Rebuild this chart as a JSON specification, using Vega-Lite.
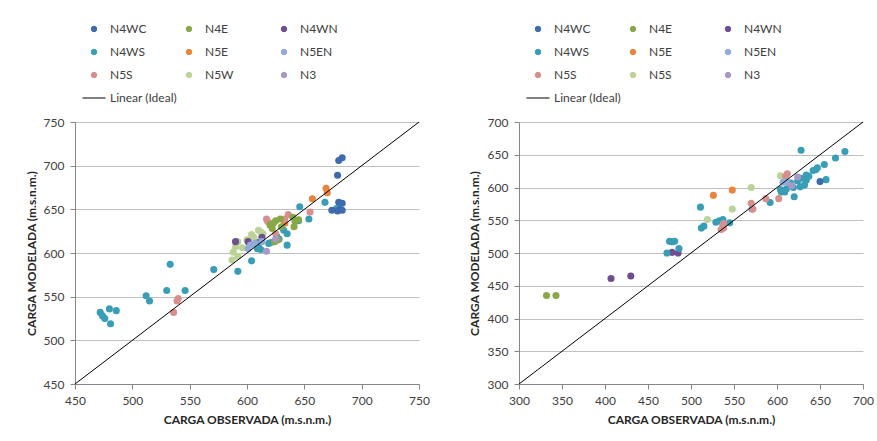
{
  "$schema": "https://vega.github.io/schema/vega-lite/v6.json",
  "background": "white",
  "padding": {"left": 25, "top": 23, "right": 5, "bottom": 5},
  "bounds": "flush",
  "spacing": 100,
  "config": {
    "view": {"stroke": null},
    "font": "Lato",
    "axis": {
      "labelFont": "Lato", "labelFontSize": 12, "labelColor": "#404040", "labelFlush": false, "labelOverlap": false,
      "titleFont": "Lato", "titleFontSize": 12, "titleFontWeight": "bold", "titleColor": "#262626",
      "domainColor": "#868686", "tickColor": "#868686", "tickSize": 5,
      "gridColor": "#BFBFBF", "gridWidth": 1
    },
    "legend": {
      "labelFont": "Lato", "labelFontSize": 12, "labelColor": "#404040",
      "padding": 0
    }
  },
  "datasets": {
    "izq": [
      {"serie": "N4WS", "observada": 472, "modelada": 532},
      {"serie": "N4WS", "observada": 474, "modelada": 528},
      {"serie": "N4WS", "observada": 476, "modelada": 525},
      {"serie": "N4WS", "observada": 480, "modelada": 536},
      {"serie": "N4WS", "observada": 481, "modelada": 519},
      {"serie": "N4WS", "observada": 486, "modelada": 534},
      {"serie": "N4WS", "observada": 512, "modelada": 551},
      {"serie": "N4WS", "observada": 515, "modelada": 545},
      {"serie": "N4WS", "observada": 530, "modelada": 557},
      {"serie": "N4WS", "observada": 533, "modelada": 587},
      {"serie": "N4WS", "observada": 546, "modelada": 557},
      {"serie": "N4WS", "observada": 571, "modelada": 581},
      {"serie": "N4WS", "observada": 592, "modelada": 579},
      {"serie": "N4WS", "observada": 604, "modelada": 591},
      {"serie": "N4WS", "observada": 609, "modelada": 605},
      {"serie": "N4WS", "observada": 612, "modelada": 604},
      {"serie": "N4WS", "observada": 610, "modelada": 607},
      {"serie": "N4WS", "observada": 619, "modelada": 611},
      {"serie": "N4WS", "observada": 621, "modelada": 612},
      {"serie": "N4WS", "observada": 628, "modelada": 616},
      {"serie": "N4WS", "observada": 632, "modelada": 626},
      {"serie": "N4WS", "observada": 635, "modelada": 622},
      {"serie": "N4WS", "observada": 635, "modelada": 609},
      {"serie": "N4WS", "observada": 643, "modelada": 637},
      {"serie": "N4WS", "observada": 645, "modelada": 637},
      {"serie": "N4WS", "observada": 646, "modelada": 653},
      {"serie": "N4WS", "observada": 654, "modelada": 639},
      {"serie": "N4WS", "observada": 668, "modelada": 658},
      {"serie": "N4WS", "observada": 678, "modelada": 651},
      {"serie": "N4WS", "observada": 626, "modelada": 619},
      {"serie": "N4WC", "observada": 680, "modelada": 706},
      {"serie": "N4WC", "observada": 683, "modelada": 709},
      {"serie": "N4WC", "observada": 679, "modelada": 689},
      {"serie": "N4WC", "observada": 674, "modelada": 649},
      {"serie": "N4WC", "observada": 680, "modelada": 658},
      {"serie": "N4WC", "observada": 683, "modelada": 657},
      {"serie": "N4WC", "observada": 679, "modelada": 648},
      {"serie": "N4WC", "observada": 683, "modelada": 649},
      {"serie": "N4WC", "observada": 681, "modelada": 650},
      {"serie": "N4WC", "observada": 609, "modelada": 612},
      {"serie": "N5E", "observada": 669, "modelada": 674},
      {"serie": "N5E", "observada": 670, "modelada": 669},
      {"serie": "N5E", "observada": 657, "modelada": 662},
      {"serie": "N5E", "observada": 633, "modelada": 634},
      {"serie": "N5S", "observada": 617, "modelada": 639},
      {"serie": "N5S", "observada": 618, "modelada": 636},
      {"serie": "N5S", "observada": 636, "modelada": 644},
      {"serie": "N5S", "observada": 633, "modelada": 639},
      {"serie": "N5S", "observada": 625, "modelada": 622},
      {"serie": "N5S", "observada": 655, "modelada": 647},
      {"serie": "N5S", "observada": 540, "modelada": 548},
      {"serie": "N5S", "observada": 539, "modelada": 545},
      {"serie": "N5S", "observada": 536, "modelada": 532},
      {"serie": "N4E", "observada": 620, "modelada": 632},
      {"serie": "N4E", "observada": 622, "modelada": 628},
      {"serie": "N4E", "observada": 623, "modelada": 634},
      {"serie": "N4E", "observada": 625, "modelada": 637},
      {"serie": "N4E", "observada": 629, "modelada": 639},
      {"serie": "N4E", "observada": 630, "modelada": 630},
      {"serie": "N4E", "observada": 640, "modelada": 641},
      {"serie": "N4E", "observada": 641, "modelada": 630},
      {"serie": "N4E", "observada": 642, "modelada": 636},
      {"serie": "N4E", "observada": 624, "modelada": 613},
      {"serie": "N4E", "observada": 627, "modelada": 615},
      {"serie": "N4E", "observada": 645, "modelada": 638},
      {"serie": "N5W", "observada": 587, "modelada": 592},
      {"serie": "N5W", "observada": 588, "modelada": 601},
      {"serie": "N5W", "observada": 590, "modelada": 607},
      {"serie": "N5W", "observada": 592, "modelada": 613},
      {"serie": "N5W", "observada": 604, "modelada": 621},
      {"serie": "N5W", "observada": 610, "modelada": 626},
      {"serie": "N5W", "observada": 606, "modelada": 618},
      {"serie": "N5W", "observada": 612, "modelada": 624},
      {"serie": "N5W", "observada": 596, "modelada": 606},
      {"serie": "N5W", "observada": 592, "modelada": 596},
      {"serie": "N5W", "observada": 600, "modelada": 615},
      {"serie": "N5W", "observada": 614, "modelada": 622},
      {"serie": "N4WN", "observada": 590, "modelada": 613},
      {"serie": "N4WN", "observada": 601, "modelada": 613},
      {"serie": "N4WN", "observada": 613, "modelada": 618},
      {"serie": "N5EN", "observada": 601, "modelada": 605},
      {"serie": "N5EN", "observada": 607, "modelada": 611},
      {"serie": "N5EN", "observada": 613, "modelada": 613},
      {"serie": "N5EN", "observada": 603, "modelada": 609},
      {"serie": "N3", "observada": 617, "modelada": 602},
      {"serie": "N3", "observada": 625, "modelada": 616},
      {"serie": "Linear (Ideal)", "observada": 450, "modelada": 450},
      {"serie": "Linear (Ideal)", "observada": 750, "modelada": 750}
    ],
    "der": [
      {"serie": "N4E", "observada": 332, "modelada": 435},
      {"serie": "N4E", "observada": 343, "modelada": 435},
      {"serie": "N4WN", "observada": 407, "modelada": 461},
      {"serie": "N4WN", "observada": 430, "modelada": 465},
      {"serie": "N4WN", "observada": 478, "modelada": 501},
      {"serie": "N4WN", "observada": 485, "modelada": 500},
      {"serie": "N4WS", "observada": 472, "modelada": 500},
      {"serie": "N4WS", "observada": 475, "modelada": 518},
      {"serie": "N4WS", "observada": 478, "modelada": 517},
      {"serie": "N4WS", "observada": 481, "modelada": 518},
      {"serie": "N4WS", "observada": 486, "modelada": 507},
      {"serie": "N4WS", "observada": 511, "modelada": 570},
      {"serie": "N4WS", "observada": 512, "modelada": 538},
      {"serie": "N4WS", "observada": 515, "modelada": 541},
      {"serie": "N4WS", "observada": 529, "modelada": 547},
      {"serie": "N4WS", "observada": 533, "modelada": 549},
      {"serie": "N4WS", "observada": 537, "modelada": 551},
      {"serie": "N4WS", "observada": 545, "modelada": 546},
      {"serie": "N4WS", "observada": 571, "modelada": 567},
      {"serie": "N4WS", "observada": 592, "modelada": 577},
      {"serie": "N4WS", "observada": 604, "modelada": 597},
      {"serie": "N4WS", "observada": 605, "modelada": 593},
      {"serie": "N4WS", "observada": 609, "modelada": 593},
      {"serie": "N4WS", "observada": 611, "modelada": 598},
      {"serie": "N4WS", "observada": 620, "modelada": 586},
      {"serie": "N4WS", "observada": 619, "modelada": 600},
      {"serie": "N4WS", "observada": 628, "modelada": 657},
      {"serie": "N4WS", "observada": 627, "modelada": 601},
      {"serie": "N4WS", "observada": 632, "modelada": 604},
      {"serie": "N4WS", "observada": 634, "modelada": 611},
      {"serie": "N4WS", "observada": 634, "modelada": 619},
      {"serie": "N4WS", "observada": 637, "modelada": 617},
      {"serie": "N4WS", "observada": 642, "modelada": 626},
      {"serie": "N4WS", "observada": 645, "modelada": 627},
      {"serie": "N4WS", "observada": 647, "modelada": 630},
      {"serie": "N4WS", "observada": 655, "modelada": 635},
      {"serie": "N4WS", "observada": 668, "modelada": 645},
      {"serie": "N4WS", "observada": 679, "modelada": 655},
      {"serie": "N4WS", "observada": 657, "modelada": 612},
      {"serie": "N4WS", "observada": 628, "modelada": 614},
      {"serie": "N4WS", "observada": 616, "modelada": 607},
      {"serie": "N4WS", "observada": 624, "modelada": 610},
      {"serie": "N4WC", "observada": 650, "modelada": 609},
      {"serie": "N5E", "observada": 526, "modelada": 588},
      {"serie": "N5E", "observada": 548, "modelada": 596},
      {"serie": "N5W", "observada": 519, "modelada": 551},
      {"serie": "N5W", "observada": 548, "modelada": 567},
      {"serie": "N5W", "observada": 570, "modelada": 600},
      {"serie": "N5W", "observada": 604, "modelada": 618},
      {"serie": "N5S", "observada": 537, "modelada": 542},
      {"serie": "N5S", "observada": 538, "modelada": 538},
      {"serie": "N5S", "observada": 535, "modelada": 536},
      {"serie": "N5S", "observada": 538, "modelada": 545},
      {"serie": "N5S", "observada": 570, "modelada": 576},
      {"serie": "N5S", "observada": 572, "modelada": 567},
      {"serie": "N5S", "observada": 587, "modelada": 583},
      {"serie": "N5S", "observada": 602, "modelada": 583},
      {"serie": "N5S", "observada": 612, "modelada": 621},
      {"serie": "N5S", "observada": 610, "modelada": 617},
      {"serie": "N3", "observada": 624, "modelada": 616},
      {"serie": "N3", "observada": 617, "modelada": 603},
      {"serie": "N5EN", "observada": 607, "modelada": 608},
      {"serie": "N5EN", "observada": 611, "modelada": 609},
      {"serie": "Linear (Ideal)", "observada": 300, "modelada": 300},
      {"serie": "Linear (Ideal)", "observada": 700, "modelada": 700}
    ]
  },
  "resolve": {"scale": {"color": "independent"}, "legend": {"color": "independent"}},
  "hconcat": [
    {
      "width": 344,
      "height": 262,
      "data": {"name": "izq"},
      "encoding": {
        "x": {"field": "observada", "type": "quantitative",
          "scale": {"domain": [450, 750], "nice": false},
          "axis": {"title": "CARGA OBSERVADA (m.s.n.m.)", "values": [450, 500, 550, 600, 650, 700, 750], "grid": false, "labelPadding": 6, "titlePadding": 8}},
        "y": {"field": "modelada", "type": "quantitative",
          "scale": {"domain": [450, 750], "nice": false},
          "axis": {"title": "CARGA MODELADA (m.s.n.m.)", "values": [450, 500, 550, 600, 650, 700, 750], "grid": true, "labelPadding": 6, "titlePadding": 5}},
        "color": {"field": "serie", "type": "nominal", "sort": ["N4WC", "N4E", "N4WN", "N4WS", "N5E", "N5EN", "N5S", "N5W", "N3", "Linear (Ideal)"],
          "scale": {"domain": ["N4WC", "N4E", "N4WN", "N4WS", "N5E", "N5EN", "N5S", "N5W", "N3", "Linear (Ideal)"],
            "range": ["#3D6BAB", "#88A847", "#6E4E91", "#389EB5", "#E8843B", "#91AAD6", "#D78F8E", "#BCD397", "#A898C5", "#000000"]},
          "legend": {"title": null, "orient": "none", "legendX": 13, "legendY": -99, "columns": 3, "direction": "horizontal", "gridAlign": "all",
            "symbolSize": 529, "labelOffset": 10, "rowPadding": 11, "columnPadding": 6,
            "encode": {"symbols": {"update": {
              "shape": {"signal": "datum.value === 'Linear (Ideal)' ? 'stroke' : 'circle'"},
              "size": {"signal": "datum.value === 'Linear (Ideal)' ? 529 : 30"},
              "stroke": {"signal": "datum.value === 'Linear (Ideal)' ? '#000000' : 'transparent'"},
              "strokeWidth": {"value": 1},
              "opacity": {"value": 1}
            }}}}}
      },
      "layer": [
        {"transform": [{"filter": "datum.serie !== 'Linear (Ideal)'"}],
         "mark": {"type": "circle", "size": 50, "opacity": 1}},
        {"transform": [{"filter": "datum.serie === 'Linear (Ideal)'"}],
         "mark": {"type": "line", "strokeWidth": 1}}
      ]
    },
    {
      "width": 344,
      "height": 262,
      "data": {"name": "der"},
      "encoding": {
        "x": {"field": "observada", "type": "quantitative",
          "scale": {"domain": [300, 700], "nice": false},
          "axis": {"title": "CARGA OBSERVADA (m.s.n.m.)", "values": [300, 350, 400, 450, 500, 550, 600, 650, 700], "grid": false, "labelPadding": 6, "titlePadding": 8}},
        "y": {"field": "modelada", "type": "quantitative",
          "scale": {"domain": [300, 700], "nice": false},
          "axis": {"title": "CARGA MODELADA (m.s.n.m.)", "values": [300, 350, 400, 450, 500, 550, 600, 650, 700], "grid": true, "labelPadding": 6, "titlePadding": 6}},
        "color": {"field": "serie", "type": "nominal", "sort": ["N4WC", "N4E", "N4WN", "N4WS", "N5E", "N5EN", "N5S", "N5W", "N3", "Linear (Ideal)"],
          "scale": {"domain": ["N4WC", "N4E", "N4WN", "N4WS", "N5E", "N5EN", "N5S", "N5W", "N3", "Linear (Ideal)"],
            "range": ["#3D6BAB", "#88A847", "#6E4E91", "#389EB5", "#E8843B", "#91AAD6", "#D78F8E", "#BCD397", "#A898C5", "#000000"]},
          "legend": {"title": null, "orient": "none", "legendX": 13, "legendY": -99, "columns": 3, "direction": "horizontal", "gridAlign": "all",
            "symbolSize": 529, "labelOffset": 10, "rowPadding": 11, "columnPadding": 6,
            "labelExpr": "datum.label === 'N5W' ? 'N5S' : datum.label",
            "encode": {"symbols": {"update": {
              "shape": {"signal": "datum.value === 'Linear (Ideal)' ? 'stroke' : 'circle'"},
              "size": {"signal": "datum.value === 'Linear (Ideal)' ? 529 : 30"},
              "stroke": {"signal": "datum.value === 'Linear (Ideal)' ? '#000000' : 'transparent'"},
              "strokeWidth": {"value": 1},
              "opacity": {"value": 1}
            }}}}}
      },
      "layer": [
        {"transform": [{"filter": "datum.serie !== 'Linear (Ideal)'"}],
         "mark": {"type": "circle", "size": 50, "opacity": 1}},
        {"transform": [{"filter": "datum.serie === 'Linear (Ideal)'"}],
         "mark": {"type": "line", "strokeWidth": 1}}
      ]
    }
  ]
}
